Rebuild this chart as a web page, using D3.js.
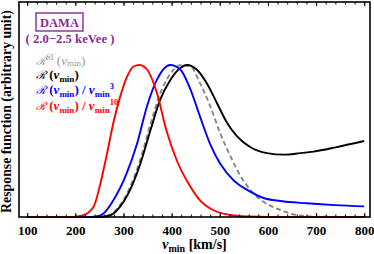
<!DOCTYPE html>
<html>
<meta charset="UTF-8">

<head>
  <script src="https://cdn.jsdelivr.net/npm/d3@7/dist/d3.min.js"></script>
  <style>
    body { margin: 0; background: #fff; }
  </style>
</head>

<body>
  <div id="viz">
    <svg width="374" height="254"></svg>
  </div>

  <script type="text/javascript">
    // v_min in km/s, response normalised to peak = 1
    const xTicks = [100, 200, 300, 400, 500, 600, 700, 800]

    const grayV = [100, 250, 270, 293, 314, 335, 356, 376, 397, 420, 439, 459, 480, 501, 522, 543, 563, 591, 626, 660, 700, 800]
    const grayR = [0, 0, 0.012, 0.08, 0.2, 0.38, 0.61, 0.81, 0.94, 1.0, 0.99, 0.88, 0.73, 0.55, 0.40, 0.27, 0.18, 0.10, 0.046, 0.013, 0.002, 0]

    const blackV = [100, 250, 272, 293, 314, 335, 356, 376, 397, 418, 432, 452, 473, 494, 515, 536, 563, 598, 633, 667, 695, 743, 800]
    const blackR = [0, 0, 0.01, 0.068, 0.18, 0.35, 0.57, 0.77, 0.90, 0.98, 1.0, 0.97, 0.88, 0.75, 0.62, 0.53, 0.46, 0.42, 0.41, 0.42, 0.43, 0.46, 0.50]

    const blueV = [100, 230, 250, 259, 279, 307, 328, 349, 369, 397, 418, 439, 459, 480, 501, 529, 556, 591, 626, 681, 740, 800]
    const blueR = [0, 0, 0.008, 0.024, 0.11, 0.29, 0.48, 0.73, 0.90, 1.0, 0.97, 0.84, 0.66, 0.48, 0.35, 0.24, 0.18, 0.125, 0.105, 0.09, 0.078, 0.07]

    const redV = [100, 195, 215, 238, 252, 266, 279, 293, 307, 321, 333, 349, 369, 390, 411, 435, 459, 486, 522, 560, 600, 800]
    const redR = [0, 0, 0.01, 0.068, 0.22, 0.42, 0.62, 0.79, 0.92, 0.99, 1.0, 0.97, 0.82, 0.56, 0.37, 0.22, 0.11, 0.046, 0.013, 0.003, 0, 0]

    const series = [
      { v: grayV, r: grayR, color: "#888888", dash: "5,3" },
      { v: blackV, r: blackR, color: "#000000", dash: null },
      { v: blueV, r: blueR, color: "#0000ff", dash: null },
      { v: redV, r: redR, color: "#ff0000", dash: null }
    ]

    const serif = "Liberation Serif"
    const pL = 19, pR = 370, pT = 2, pB = 217
    const purple = "#8a2a96"

    const x = d3.scaleLinear().domain([83, 812]).range([pL, pR])
    const y = d3.scaleLinear().domain([0, 1.414]).range([pB, pT])

    const svg = d3.select("svg")
      .attr("font-family", serif)

    const line = d3.line()
      .x(d => x(d[0]))
      .y(d => y(d[1]))
      .curve(d3.curveMonotoneX)

    svg.append("g")
      .selectAll("path")
      .data(series)
      .enter()
      .append("path")
      .attr("d", s => line(s.v.map((v, i) => [v, s.r[i]])))
      .attr("fill", "none")
      .attr("stroke", s => s.color)
      .attr("stroke-width", 1.9)
      .attr("stroke-dasharray", s => s.dash)

    // ticks, bottom and top, pointing inward
    const minor = d3.range(100, 801, 20)
    svg.append("g")
      .attr("transform", `translate(0,${pB})`)
      .call(d3.axisBottom(x).tickValues(minor).tickSize(-2.5).tickFormat(""))
    svg.append("g")
      .attr("transform", `translate(0,${pB})`)
      .call(d3.axisBottom(x).tickValues(xTicks).tickSize(-4).tickPadding(9))
    svg.append("g")
      .attr("transform", `translate(0,${pT})`)
      .call(d3.axisTop(x).tickValues(minor).tickSize(-2.5).tickFormat(""))
    svg.append("g")
      .attr("transform", `translate(0,${pT})`)
      .call(d3.axisTop(x).tickValues(xTicks).tickSize(-4).tickFormat(""))

    svg.selectAll("g").attr("font-family", serif).attr("font-size", 13)
    svg.selectAll(".domain").remove()
    svg.selectAll(".tick line").attr("stroke", "#000").attr("stroke-width", 1)
    svg.selectAll(".tick text")
      .attr("font-weight", "bold")
      .attr("fill", "#000")

    svg.append("rect")
      .attr("x", pL).attr("y", pT)
      .attr("width", pR - pL).attr("height", pB - pT)
      .attr("fill", "none")
      .attr("stroke", "#000")
      .attr("stroke-width", 1.6)

    // axis labels
    svg.append("text")
      .attr("transform", "translate(11,111.5) rotate(-90)")
      .attr("text-anchor", "middle")
      .attr("font-size", 13.8)
      .attr("font-weight", "bold")
      .text("Response function (arbitrary unit)")

    const xl = svg.append("text")
      .attr("x", (pL + pR) / 2)
      .attr("y", 249)
      .attr("text-anchor", "middle")
      .attr("font-size", 14)
      .attr("font-weight", "bold")
    xl.append("tspan").attr("font-style", "italic").text("v")
    xl.append("tspan").attr("dy", 2.5).attr("font-size", 10).text("min")
    xl.append("tspan").attr("dy", -2.5).text(" [km/s]")

    // DAMA box
    svg.append("rect")
      .attr("x", 36).attr("y", 13).attr("width", 47).attr("height", 18)
      .attr("fill", "none").attr("stroke", purple).attr("stroke-width", 1.4)
    svg.append("text")
      .attr("x", 59.5).attr("y", 26.5)
      .attr("text-anchor", "middle")
      .attr("font-size", 12.5).attr("font-weight", "bold")
      .attr("fill", purple)
      .text("DAMA")
    svg.append("text")
      .attr("x", 70).attr("y", 43)
      .attr("text-anchor", "middle")
      .attr("font-size", 12.7).attr("font-weight", "bold")
      .attr("fill", purple)
      .text("( 2.0\u22122.5 keVee )")

    // legend
    const legend = [
      { color: "#999999", bold: false, sup: "SI", pow: null, yy: 64.5, sub: 1.8 },
      { color: "#000000", bold: true, sup: null, pow: null, yy: 79, sub: 2.5 },
      { color: "#0000ff", bold: true, sup: null, pow: "3", yy: 94, sub: 2.5 },
      { color: "#ff0000", bold: true, sup: null, pow: "10", yy: 110, sub: 2.5 }
    ]

    legend.forEach(d => {
      const t = svg.append("text")
        .attr("x", 36).attr("y", d.yy)
        .attr("font-size", 13)
        .attr("font-weight", d.bold ? "bold" : "normal")
        .attr("fill", d.color)
      t.append("tspan").attr("font-family", "DejaVu Serif").attr("font-style", "italic")
        .attr("font-weight", "normal").attr("font-size", 11.5).text("\u211B")
      if (d.sup) t.append("tspan").attr("dy", -4.5).attr("font-size", 8.5).text(d.sup)
      t.append("tspan").attr("dy", d.sup ? 4.5 : 0).text(" (")
      t.append("tspan").attr("font-style", "italic").text("v")
      t.append("tspan").attr("dy", d.sub).attr("font-size", 9).text("min")
      t.append("tspan").attr("dy", -d.sub).text(")")
      if (d.pow) {
        t.append("tspan").text(" / ")
        t.append("tspan").attr("font-style", "italic").text("v")
        t.append("tspan").attr("dy", d.sub).attr("font-size", 9).text("min")
        t.append("tspan").attr("dy", -7.5).attr("font-size", 8.5).text(d.pow)
      }
    })
  </script>
</body>

</html>
